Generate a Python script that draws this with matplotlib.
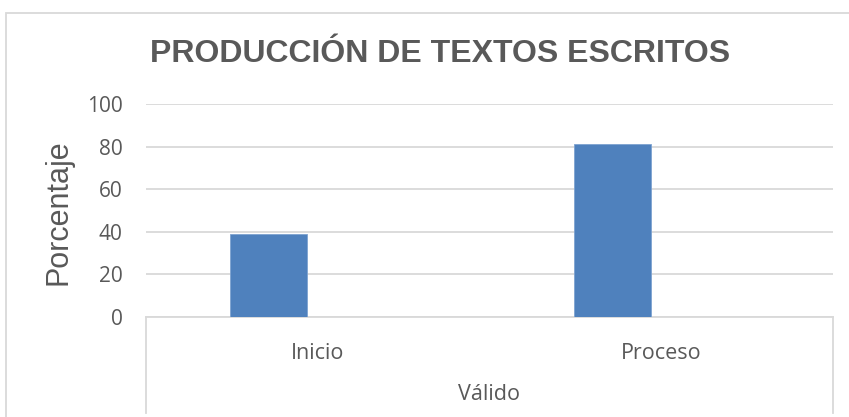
import matplotlib.pyplot as plt
from matplotlib.patches import Rectangle
from matplotlib.lines import Line2D

categories = ["Inicio", "Proceso"]
values = [39, 81]
group_label = "Válido"
title = "PRODUCCIÓN DE TEXTOS ESCRITOS"
ylabel = "Porcentaje"
yticks = [0, 20, 40, 60, 80, 100]

W, H = 849, 417
grey_text = "#595959"
grid_col = "#D9D9D9"
bar_col = "#4F81BD"

plt.rcParams['font.family'] = ['Open Sans', 'DejaVu Sans']

fig = plt.figure(figsize=(W / 100, H / 100), dpi=100)

# chart border (clipped at right and bottom like the original)
fig.patches.append(Rectangle((6 / W, -0.1), 1.2, 1 - 13 / H + 0.1, transform=fig.transFigure,
                             fill=False, edgecolor=grid_col, linewidth=1.3))

left, right, top, bottom = 146, 833, 104, 317
ax = fig.add_axes([left / W, 1 - bottom / H, (right - left) / W, (bottom - top) / H])

x = list(range(len(categories)))
bar_x = [i - 0.143 for i in x]
ax.bar(bar_x, values, width=0.224, color=bar_col, edgecolor="#7EA3D1", linewidth=0.6, zorder=3)

ax.set_xlim(-0.5, len(categories) - 0.5)
ax.set_ylim(0, 100)
ax.set_yticks(yticks)
ax.set_yticklabels([str(t) for t in yticks], fontsize=15, color=grey_text)
ax.set_xticks(x)
ax.set_xticklabels(categories, fontsize=15.5, color=grey_text)
ax.tick_params(axis='y', length=0, pad=17)
ax.tick_params(axis='x', length=0, pad=19)
ax.grid(axis='y', color=grid_col, linewidth=1.3, zorder=0)
ax.set_axisbelow(True)
for s in ["top", "right", "left"]:
    ax.spines[s].set_visible(False)
ax.spines["bottom"].set_color(grid_col)
ax.spines["bottom"].set_linewidth(1.3)

# multi-level category box lines
depth = (413 - bottom) / (bottom - top)
for xa in (0, 1):
    ax.add_line(Line2D([xa, xa], [0, -depth], transform=ax.transAxes, color=grid_col,
                       linewidth=1.3, clip_on=False))

fig.text((left + right) / 2 / W, 1 - 395 / H, group_label, fontsize=15.5, color=grey_text,
         ha="center", va="center")

fig.text(59 / W, 1 - 212 / H, ylabel, fontsize=22, color=grey_text, rotation=90,
         ha="center", va="center", family=["Liberation Sans", "DejaVu Sans"])

fig.text(440 / W, 1 - 54 / H, title, fontsize=23, fontweight="bold", color=grey_text,
         ha="center", va="center", family=["Liberation Sans", "DejaVu Sans"])

fig.savefig("out.png", dpi=100)
